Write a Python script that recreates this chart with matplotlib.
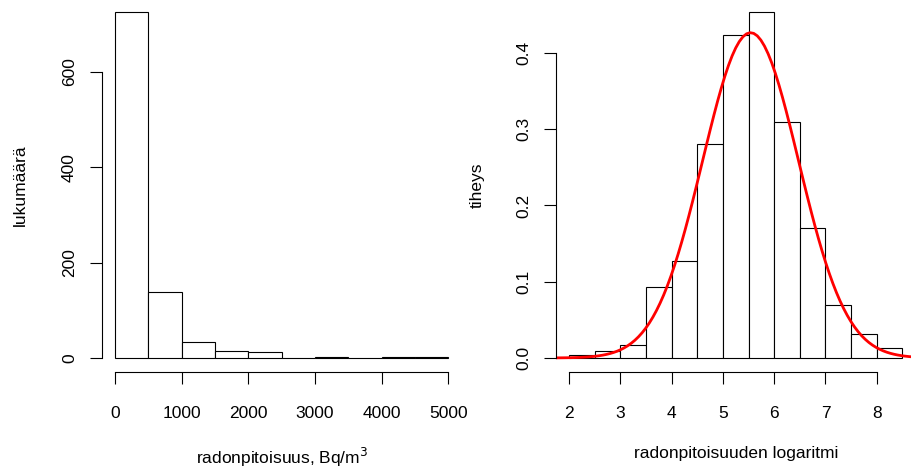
import numpy as np
import matplotlib
matplotlib.use("Agg")
import matplotlib.pyplot as plt

plt.rcParams["font.family"] = ["Liberation Sans", "DejaVu Sans"]
plt.rcParams["font.size"] = 12.5

# left: counts of radon concentration, bins of 500 Bq/m3
count_edges = [0, 500, 1000, 1500, 2000, 2500, 3000, 3500, 4000, 4500, 5000]
counts = [726, 138, 33, 14, 12, 0, 3, 0, 2, 1]
count_ticks = [0, 1000, 2000, 3000, 4000, 5000]
count_yticks = [0, 200, 400, 600]

# right: density of log concentration, bins of 0.5
log_edges = [2.0, 2.5, 3.0, 3.5, 4.0, 4.5, 5.0, 5.5, 6.0, 6.5, 7.0, 7.5, 8.0, 8.5]
densities = [0.0044, 0.0087, 0.0175, 0.093, 0.127, 0.280, 0.424, 0.454,
             0.310, 0.170, 0.069, 0.032, 0.013]
log_ticks = [2, 3, 4, 5, 6, 7, 8]
dens_yticks = [0.0, 0.1, 0.2, 0.3, 0.4]
fit_mean = 5.54
fit_sd = 0.935

W, H = 911, 468
fig = plt.figure(figsize=(W / 100, H / 100), dpi=100)


def r_axes(ax, xticks, yticks, xfmt, yfmt):
    for s in ("top", "right"):
        ax.spines[s].set_visible(False)
    ax.spines["left"].set_bounds(yticks[0], yticks[-1])
    ax.spines["bottom"].set_bounds(xticks[0], xticks[-1])
    for s in ("left", "bottom"):
        ax.spines[s].set_linewidth(0.8)
    ax.set_xticks(xticks)
    ax.set_xticklabels([xfmt.format(v) for v in xticks])
    ax.set_yticks(yticks)
    ax.set_yticklabels([yfmt.format(v) for v in yticks], rotation=90, va="center")
    ax.tick_params(direction="out", length=8.8, width=0.8)
    ax.tick_params(axis="x", pad=15.5)
    ax.tick_params(axis="y", pad=9)


# left histogram
ax1 = fig.add_axes([101.7 / W, 96.2 / H, 359.9 / W, 373.8 / H])
widths = np.diff(count_edges)
ax1.bar(count_edges[:-1], counts, width=widths, align="edge",
        facecolor="white", edgecolor="black", linewidth=0.8)
ax1.set_xlim(-200, 5200)
ax1.set_ylim(-0.04 * 726, 1.04 * 726)
r_axes(ax1, count_ticks, count_yticks, "{}", "{}")
ax1.set_xlabel("radonpitoisuus, Bq/m$^3$", labelpad=18)
ax1.set_ylabel("lukumäärä", labelpad=24.5)

# right histogram with normal fit
ax2 = fig.add_axes([555.7 / W, 96.2 / H, 360 / W, 373.8 / H])
lw = np.diff(log_edges)
ax2.bar(log_edges[:-1], densities, width=lw, align="edge",
        facecolor="white", edgecolor="black", linewidth=0.8)
ax2.set_xlim(1.74, 8.76)
ax2.set_ylim(-0.04 * 0.454, 1.04 * 0.454)
xs = np.linspace(1.74, 8.76, 101)
ys = np.exp(-0.5 * ((xs - fit_mean) / fit_sd) ** 2) / (fit_sd * np.sqrt(2 * np.pi))
ax2.plot(xs, ys, color="red", linewidth=2)
r_axes(ax2, log_ticks, dens_yticks, "{}", "{:.1f}")
ax2.set_xlabel("radonpitoisuuden logaritmi", labelpad=18)
ax2.set_ylabel("tiheys", labelpad=22.5)

fig.savefig("out.png", dpi=100)
